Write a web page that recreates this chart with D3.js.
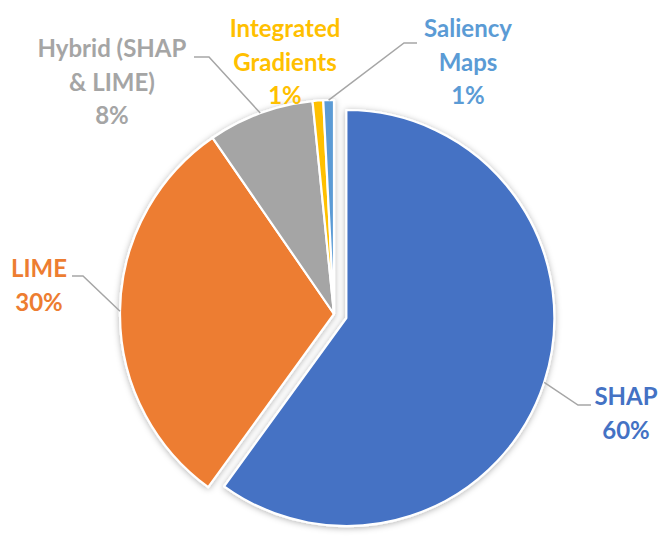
<!DOCTYPE html>
<html>
<head>
<meta charset="utf-8">
<script src="https://cdn.jsdelivr.net/npm/d3@7"></script>
<style>
	body { margin: 0; background: #fff; }
	text { font-family: Lato, "Open Sans", sans-serif; font-weight: bold; }
</style>
</head>
<body>
<script>
// data
var categories = ["SHAP", "LIME", "Hybrid (SHAP & LIME)", "Integrated Gradients", "Saliency Maps"];
var shares = [60, 30.4, 8, 0.8, 0.8];
var labelLines = [["SHAP"], ["LIME"], ["Hybrid (SHAP", "& LIME)"], ["Integrated", "Gradients"], ["Saliency", "Maps"]];

var width = 670, height = 543;
var cx = 334, cy = 314, radius = 214;
var pulled = "SHAP", pullOut = 13;

var color = d3.scaleOrdinal()
	.domain(categories)
	.range(["#4472C4", "#ED7D31", "#A5A5A5", "#FFC000", "#5B9BD5"]);

// label layout: centre x, first baseline, leader start and elbow
var labelPos = {
	"SHAP": { x: 626, y: 405, from: [591, 405], elbow: [578, 405] },
	"LIME": { x: 39, y: 277, from: [72, 276], elbow: [83, 276] },
	"Hybrid (SHAP & LIME)": { x: 112, y: 57, from: [194, 57], elbow: [209, 57] },
	"Integrated Gradients": { x: 285, y: 37, from: null },
	"Saliency Maps": { x: 468, y: 37, from: [417, 43], elbow: [404, 43] }
};
var lineGap = 33.5;

var svg = d3.select("body").append("svg")
	.attr("width", width)
	.attr("height", height);

var shadow = svg.append("defs").append("filter")
	.attr("id", "shadow")
	.attr("x", "-10%").attr("y", "-10%")
	.attr("width", "120%").attr("height", "120%");
shadow.append("feDropShadow")
	.attr("dx", 0).attr("dy", 1)
	.attr("stdDeviation", 3)
	.attr("flood-color", "#000")
	.attr("flood-opacity", 0.3);

var pie = d3.pie()
	.sort(null)
	.value(function(d){ return d.value; });

var slices = pie(categories.map(function(c, i){ return { name: c, value: shares[i] }; }));

function rOf(d){ return d.data.name == pulled ? radius - 6 : radius; }
function mid(d){ return (d.startAngle + d.endAngle) / 2; }
function shift(d){
	if (d.data.name != pulled) return [0, 0];
	var a = mid(d);
	return [pullOut * Math.sin(a), -pullOut * Math.cos(a)];
}

var arc = d3.arc()
	.innerRadius(0)
	.outerRadius(rOf);

var g = svg.append("g")
	.attr("transform", "translate(" + cx + "," + cy + ")")
	.attr("filter", "url(#shadow)");

g.selectAll("path")
	.data(slices)
	.enter()
	.append("path")
		.attr("d", arc)
		.attr("transform", function(d){ var s = shift(d); return "translate(" + s[0] + "," + s[1] + ")"; })
		.attr("fill", function(d){ return color(d.data.name); })
		.attr("stroke", "#fff")
		.attr("stroke-width", 2.2)
		.attr("stroke-linejoin", "round");

// leader lines end on the slice edge at its middle angle
var leaders = svg.append("g");
slices.forEach(function(d){
	var p = labelPos[d.data.name];
	if (!p.from) return;
	var a = mid(d), s = shift(d), r = rOf(d);
	var end = [cx + s[0] + r * Math.sin(a), cy + s[1] - r * Math.cos(a)];
	leaders.append("path")
		.attr("d", d3.line()([p.from, p.elbow, end]))
		.attr("fill", "none")
		.attr("stroke", "#A6A6A6")
		.attr("stroke-width", 1.5);
});

// labels
var labels = svg.append("g");
slices.forEach(function(d){
	var p = labelPos[d.data.name];
	var lines = labelLines[categories.indexOf(d.data.name)].concat([Math.round(d.data.value) + "%"]);
	var t = labels.append("text")
		.attr("text-anchor", "middle")
		.attr("font-size", "24px")
		.attr("fill", color(d.data.name));
	lines.forEach(function(l, i){
		t.append("tspan")
			.attr("x", p.x)
			.attr("y", p.y + i * lineGap)
			.text(l);
	});
});
</script>
</body>
</html>
